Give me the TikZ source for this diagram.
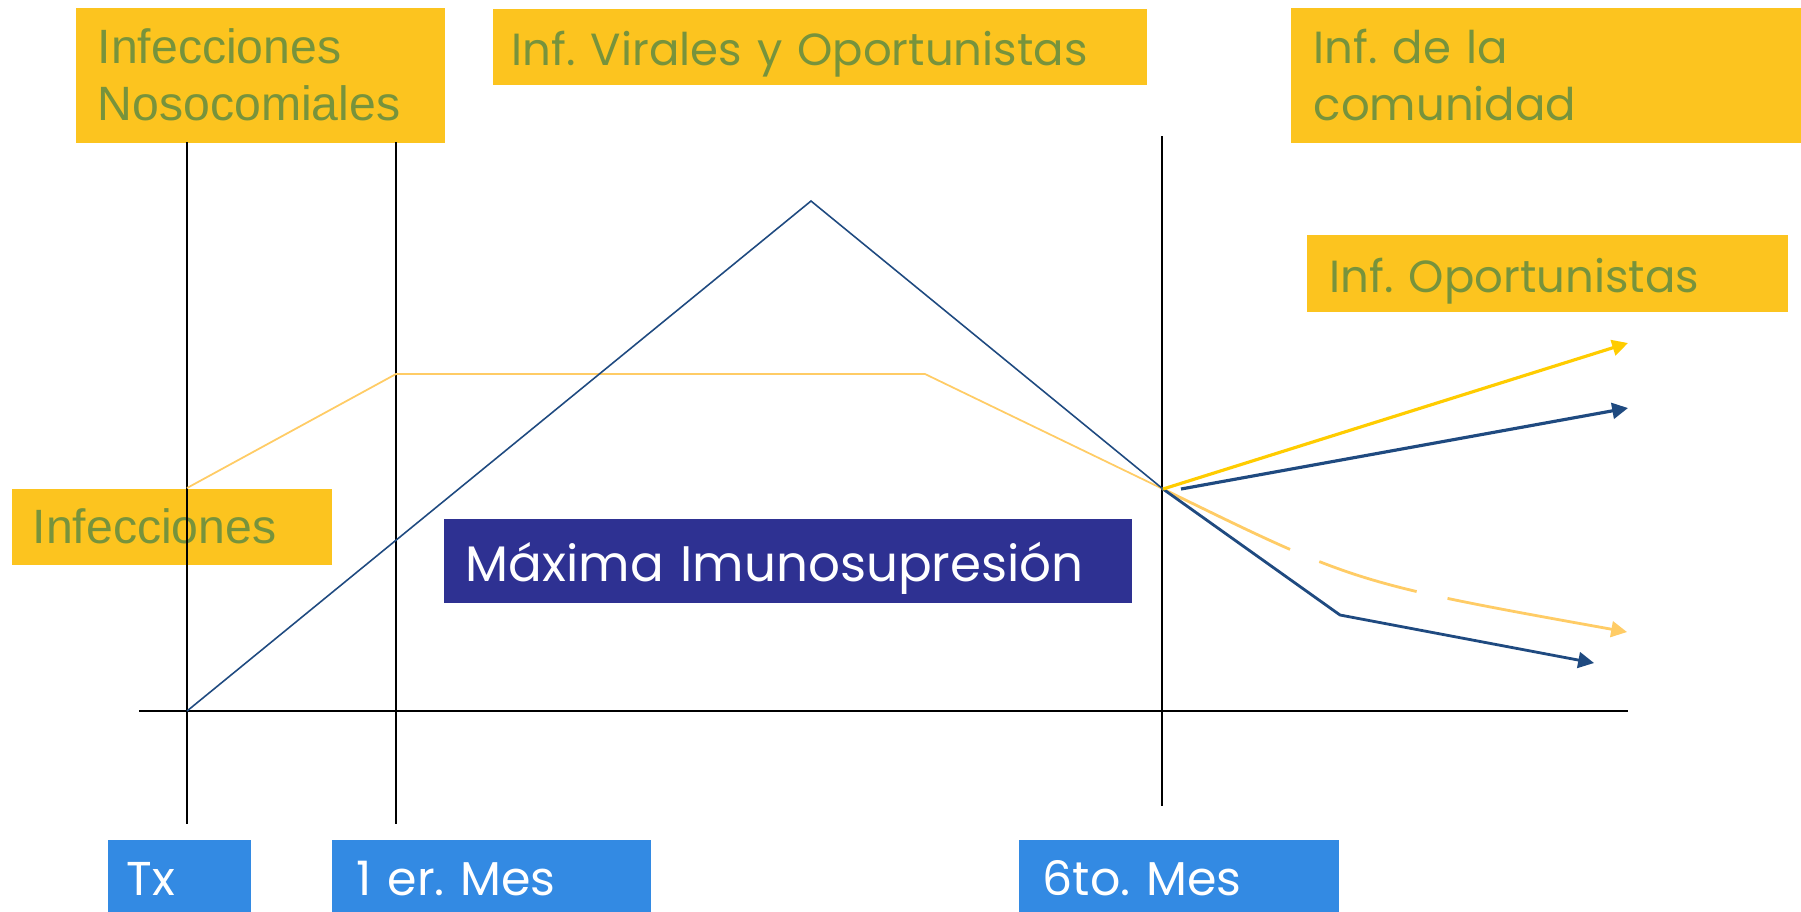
\documentclass[tikz,border=0pt]{standalone}
\usepackage{fontspec}
\newfontfamily\gothic{Poppins}
\newfontfamily\arialf{Liberation Sans}
\usetikzlibrary{arrows.meta,positioning}
\definecolor{boxyel}{HTML}{FCC41F}
\definecolor{txtgreen}{HTML}{77933C}
\definecolor{boxblue}{HTML}{338AE3}
\definecolor{boxnavy}{HTML}{2E3192}
\definecolor{curvenavy}{HTML}{1F4A80}
\definecolor{lineyel}{HTML}{FFCC00}
\definecolor{lightyel}{HTML}{FFCC66}
\frenchspacing
\tikzset{
  lab/.style     ={anchor=north west,align=left,inner ysep=0pt},
  yellab/.style  ={lab,fill=boxyel,text=txtgreen},
  oneline/.style ={text height=14pt,text depth=3.3pt},
  bluelab/.style ={lab,fill=boxblue,text=white,minimum height=0.72cm,
                   text height=11.5pt,text depth=0pt,
                   font=\gothic\fontsize{13.5}{16}\selectfont},
  gfont/.style   ={font=\gothic\fontsize{12.8}{16.2}\selectfont},
  afont/.style   ={font=\arialf\fontsize{13.7}{16.2}\selectfont},
  grid/.style    ={draw=black,line width=0.6pt},
  tip/.style     ={-{Triangle[length=4.5pt,width=4.5pt]}},
}

\begin{document}
\begin{tikzpicture}[x=0.01cm, y=-0.01cm]
\useasboundingbox (0,0) rectangle (1801,911);

% Labels
\node[yellab,afont,text width=3.25cm,inner xsep=0.22cm,minimum height=1.35cm] (nosoc) at (75,7) {Infecciones\\Nosocomiales};
\node[yellab,gfont,oneline,text width=6.16cm,inner xsep=0.19cm,minimum height=0.76cm] (virales) at (492,8) {Inf. Virales y Oportunistas};
\node[yellab,gfont,text width=4.65cm,inner xsep=0.23cm,minimum height=1.35cm] (comun) at (1290,7) {Inf. de la\\comunidad};
\node[yellab,gfont,oneline,text width=4.35cm,inner xsep=0.23cm,minimum height=0.77cm] (oport) at (1306,234) {Inf. Oportunistas};
\node[yellab,afont,text width=2.78cm,inner xsep=0.21cm,minimum height=0.76cm] (infec) at (11,488) {Infecciones};
\node[lab,fill=boxnavy,text=white,font=\gothic\fontsize{14.2}{18}\selectfont,
      text height=15.9pt,text depth=3.9pt,
      text width=6.44cm,inner xsep=0.22cm,minimum height=0.84cm] (maxima) at (443,518) {Máxima Imunosupresión};
\node[bluelab,text width=1.05cm,inner xsep=0.19cm] (tx) at (107,839) {Tx};
\node[bluelab,text width=2.69cm,inner xsep=0.25cm] (mes1) at (331,839) {1 er. Mes};
\node[bluelab,text width=2.72cm,inner xsep=0.24cm] (mes6) at (1018,839) {6to. Mes};

% Points of the curves
\coordinate (t0) at (187,711);
\coordinate (peak) at (811,201);
\coordinate (cross) at (1163,489);
\coordinate (knee) at (1340,615);
\coordinate (navyend) at (1594,663);
\coordinate (navyup0) at (1181,489);
\coordinate (navyup) at (1628,408);
\coordinate (yelup) at (1628,343);
\coordinate (inf0) at (187,488);
\coordinate (inf1) at (396,374);
\coordinate (inf2) at (925,374);
\coordinate (yeldown) at (1627,632);

% Time lines and axis
\draw[grid] (187,142) -- (187,824);
\draw[grid] (396,142) -- (396,824);
\draw[grid] (1162,136) -- (1162,806);
\draw[grid] (139,711) -- (1628,711);

% Curves
\draw[lightyel,line width=0.5pt] (inf0) -- (inf1) -- (inf2) -- (cross);
\draw[lightyel,line width=0.8pt,tip,dash pattern=on 40pt off 9pt on 29pt off 9pt on 80pt]
  (cross) .. controls (1355,583) .. (yeldown);
\draw[curvenavy,line width=0.45pt] (t0) -- (peak) -- (cross);
\draw[curvenavy,line width=0.8pt,tip] (cross) -- (knee) -- (navyend);
\draw[curvenavy,line width=0.9pt,tip] (navyup0) -- (navyup);
\draw[lineyel,line width=0.9pt,tip] (cross) -- (yelup);

\end{tikzpicture}
\end{document}
